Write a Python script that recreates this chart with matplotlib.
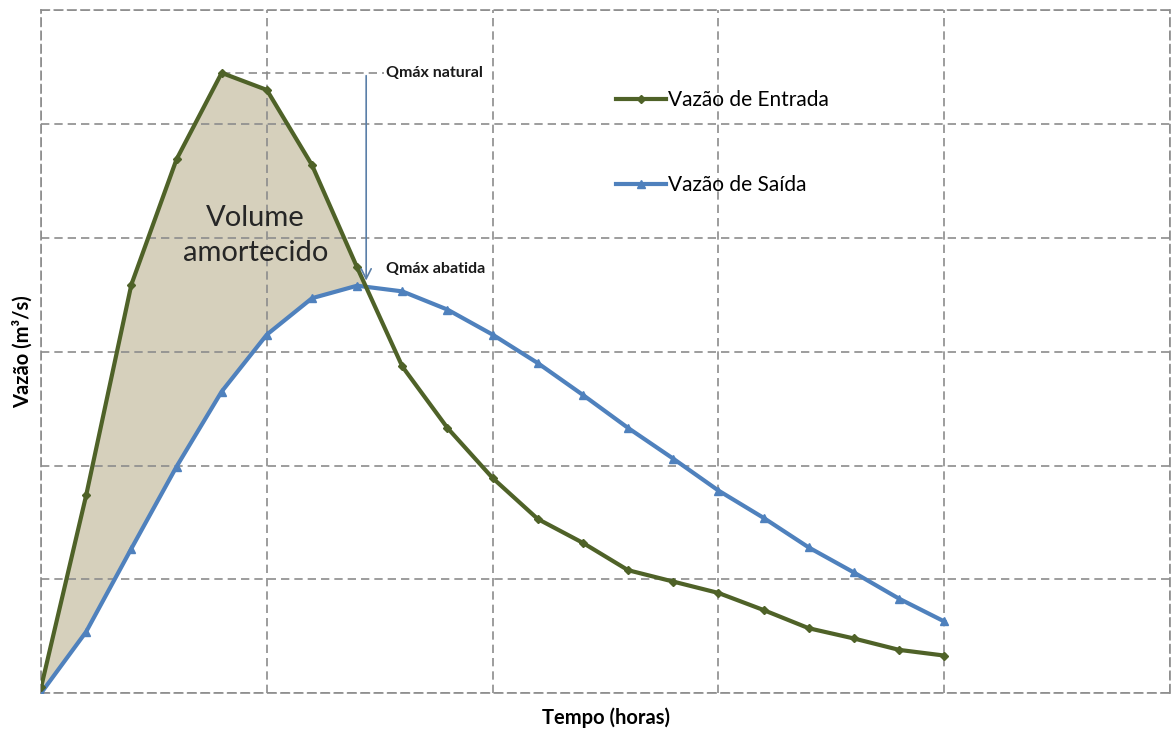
import matplotlib
matplotlib.use("Agg")
import matplotlib.pyplot as plt
import numpy as np

plt.rcParams['font.family'] = ['Lato', 'DejaVu Sans']

# hours
tempo = list(range(0, 21))
# inflow (m3/s, relative units)
entrada = [0.05, 1.74, 3.59, 4.69, 5.45, 5.30, 4.64, 3.74, 2.87, 2.33, 1.89,
           1.53, 1.32, 1.08, 0.98, 0.88, 0.73, 0.57, 0.48, 0.38, 0.33]
# outflow
saida = [0.0, 0.54, 1.27, 1.99, 2.65, 3.15, 3.47, 3.58, 3.53, 3.37, 3.15,
         2.90, 2.62, 2.33, 2.06, 1.78, 1.54, 1.28, 1.06, 0.83, 0.63]

c_in = '#4f6228'
c_out = '#4f81bd'
grid_c = '#8c8c8c'

fig = plt.figure(figsize=(11.73, 7.35), dpi=100)
ax = fig.add_axes([0.035, 0.057, 0.9624, 0.929])

t = np.array(tempo, dtype=float)
e = np.array(entrada)
s = np.array(saida)
ax.fill_between(t, e, s, where=e >= s, interpolate=True, color='#d6d0bc', zorder=1)

ax.plot(tempo, saida, color=c_out, lw=3, marker='^', ms=6, label='Vazão de Saída', zorder=3)
ax.plot(tempo, entrada, color=c_in, lw=3, marker='D', ms=4.5, label='Vazão de Entrada', zorder=4)

ax.set_xlim(0, 25)
ax.set_ylim(0, 6)
ax.set_xticks(np.arange(0, 26, 5))
ax.set_yticks(np.arange(0, 7, 1))
ax.tick_params(length=0, labelbottom=False, labelleft=False)
ax.grid(True, color=grid_c, linestyle=(0, (5, 3)), lw=1.2, zorder=0)
for sp in ax.spines.values():
    sp.set_color(grid_c)
    sp.set_linestyle((0, (5, 3)))
    sp.set_linewidth(1.2)

# peak annotations
i_pk = int(np.argmax(entrada))
i_ab = int(np.argmax(saida))
ax.plot([tempo[i_pk], 7.6], [entrada[i_pk]] * 2, color=grid_c, ls=(0, (5, 3)), lw=1.2, zorder=2)
ax.annotate('', xy=(7.2, saida[i_ab] + 0.02), xytext=(7.2, entrada[i_pk]),
            arrowprops=dict(arrowstyle='->', color='#5a7fa8', lw=1.2, mutation_scale=18),
            zorder=5)
ax.text(7.65, entrada[i_pk], 'Qmáx natural', fontsize=11.5, fontweight='bold',
        va='center', ha='left', color='#1a1a1a')
ax.text(7.65, 3.73, 'Qmáx abatida', fontsize=11.5, fontweight='bold',
        va='center', ha='left', color='#1a1a1a')

ax.text(4.75, 4.02, 'Volume\namortecido', fontsize=21, ha='center', va='center',
        color='#262626', linespacing=1.4, zorder=6)

handles, labels = ax.get_legend_handles_labels()
ax.legend(handles[::-1], labels[::-1], loc='upper left', bbox_to_anchor=(0.502, 0.895),
          frameon=False, fontsize=15, labelspacing=3.1, handlelength=2.4,
          handletextpad=0.1, borderaxespad=0)

ax.set_xlabel('Tempo (horas)', fontsize=14.5, fontweight='bold', labelpad=10)
ax.set_ylabel('Vazão (m³/s)', fontsize=14.5, fontweight='bold', labelpad=6)

fig.savefig('out.png', dpi=100, facecolor='white')
